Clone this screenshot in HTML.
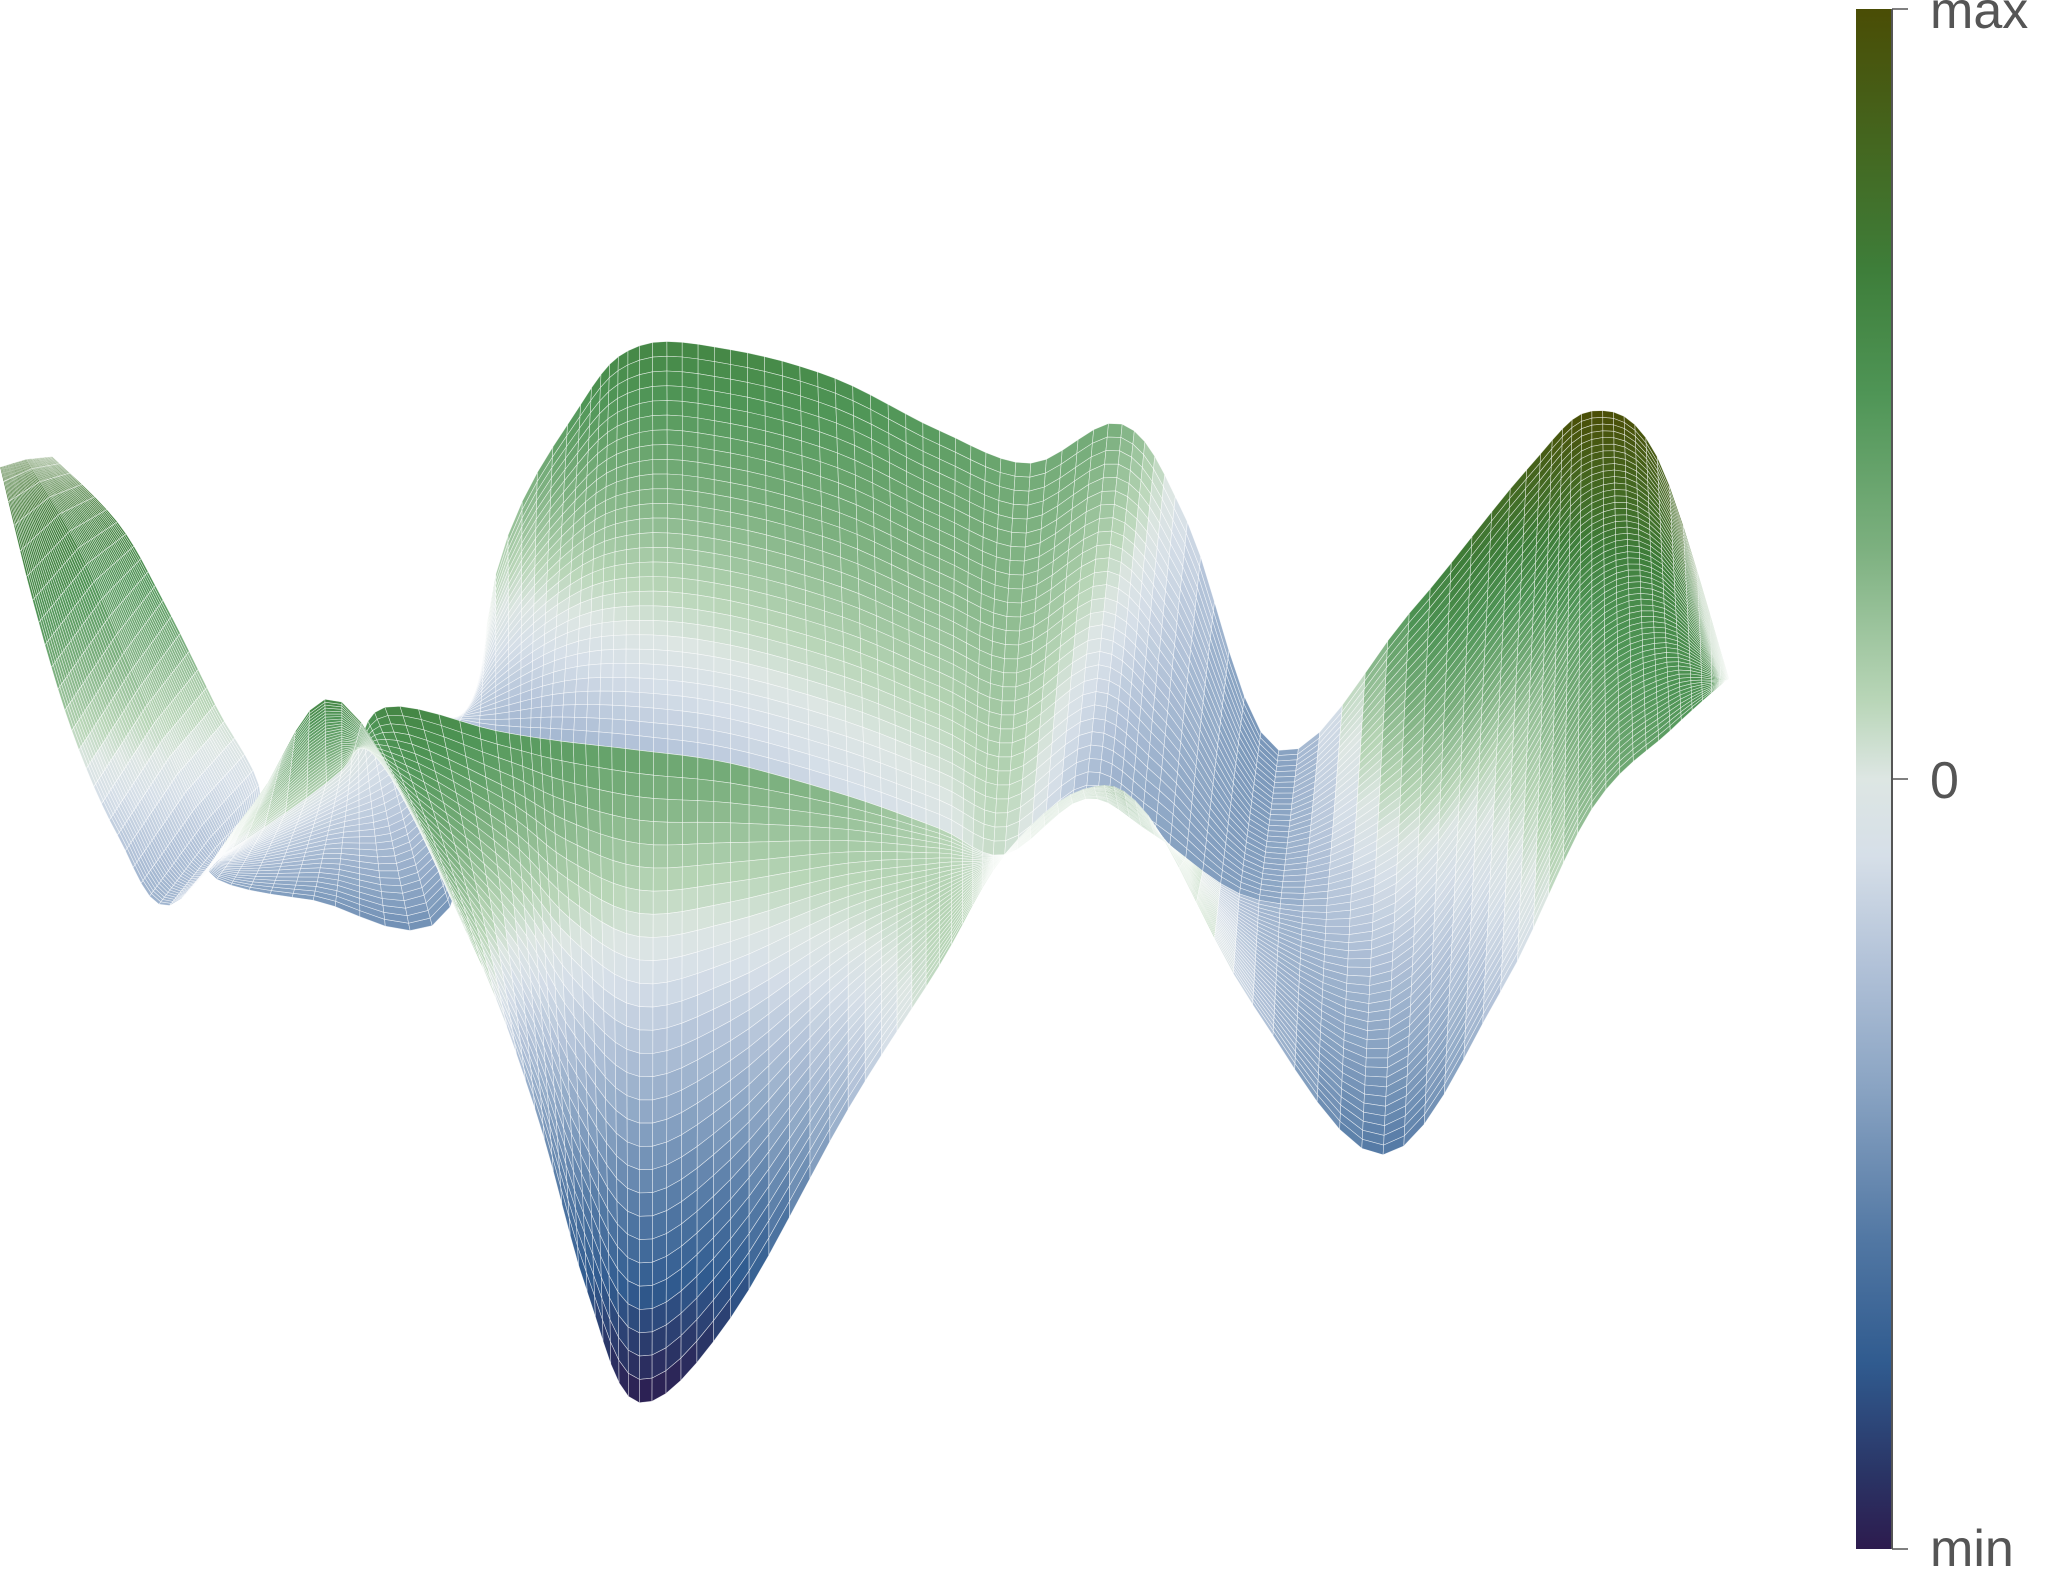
<!DOCTYPE html>
<html><head><meta charset="utf-8">
<style>
html,body{margin:0;padding:0;background:#fff;}
#wrap{position:relative;width:2046px;height:1570px;overflow:hidden;background:#fff;}
svg{position:absolute;left:0;top:0;}
text{font-family:"Liberation Sans",sans-serif;}
</style></head>
<body>
<div id="wrap">
<svg id="plot" width="2046" height="1570" viewBox="0 0 2046 1570">
  <defs>
    <linearGradient id="cbgrad" x1="0" y1="0" x2="0" y2="1">
      <stop offset="0" stop-color="#4a4d05"/>
      <stop offset="0.1" stop-color="#436a23"/>
      <stop offset="0.17" stop-color="#3e7e3a"/>
      <stop offset="0.25" stop-color="#4f9556"/>
      <stop offset="0.35" stop-color="#7cb07f"/>
      <stop offset="0.45" stop-color="#b9d6b8"/>
      <stop offset="0.5" stop-color="#dde6e3"/>
      <stop offset="0.55" stop-color="#d6dfe8"/>
      <stop offset="0.62" stop-color="#b2c2d8"/>
      <stop offset="0.7" stop-color="#8aa4c3"/>
      <stop offset="0.8" stop-color="#5177a3"/>
      <stop offset="0.88" stop-color="#305b8f"/>
      <stop offset="0.95" stop-color="#2a3566"/>
      <stop offset="1" stop-color="#2d1b4e"/>
    </linearGradient>
  </defs>
  <g id="surface"></g>
  <g>
    <rect x="1856" y="9" width="36" height="1540" fill="url(#cbgrad)"/>
    <line x1="1892" y1="9" x2="1892" y2="1549" stroke="#555" stroke-width="2"/>
    <line x1="1892" y1="9" x2="1908" y2="9" stroke="#555" stroke-width="1.5"/>
    <line x1="1892" y1="779" x2="1908" y2="779" stroke="#555" stroke-width="1.5"/>
    <line x1="1892" y1="1549" x2="1908" y2="1549" stroke="#555" stroke-width="1.5"/>
    <text x="1930" y="28" font-size="52" fill="#555">max</text>
    <text x="1930" y="798" font-size="52" fill="#555">0</text>
    <text x="1930" y="1566" font-size="52" fill="#555">min</text>
  </g>
</svg>
</div>
<script>
// Surface edge curves (reference-frame coordinates) and heights
const frontX = [0,25,55,90,130,195,262,360,410,450,490,560,650,720,770,830,880,960,1060,1150,1220,1280,1322];
const frontY = [358,460,560,640,694,615,538,720,850,990,1075,1010,850,740,655,605,625,770,885,760,620,560,522];
const frontZ = [0.75,0.55,0.1,-0.2,-0.3,0.3,0.6,0.15,-0.4,-0.8,-1,-0.85,-0.3,0.1,0.1,0.6,0.5,-0.2,-0.6,-0.2,0.25,0.45,0.55];
const ridgeX = [20,60,95,130,165,178,262,295,380,430,490,560,650,720,770,832,885,965,1070,1160,1220,1275,1324];
const ridgeY = [352,420,500,580,650,650,590,542,560,568,575,585,610,635,655,612,640,690,677,560,467,455,521];
const ridgeZFront = [0.75,0.6,0.3,0.0,-0.25,-0.05,0.2,0.6,0.5,0.45,0.4,0.35,0.25,0.12,0.05,0.5,0.4,-0.3,-0.1,0.15,0.5,0.6,0.55];
const ridgeZBack  = [0.75,0.6,0.3,0.0,-0.25,-0.05,0.0,0.0,-0.3,-0.3,-0.25,-0.2,-0.12,-0.05,0.05,-0.3,-0.4,-0.4,-0.1,0.15,0.5,0.6,0.55];
const backX = [40,90,125,165,200,160,240,345,380,445,490,560,640,720,790,860,910,980,1080,1170,1220,1270,1325];
const backY = [350,400,460,540,613,668,690,695,440,310,265,268,290,330,355,325,400,575,470,360,315,350,520];
const backZ = [0.75,0.65,0.45,0.1,-0.15,-0.35,-0.45,-0.45,0.1,0.5,0.6,0.6,0.55,0.45,0.35,0.3,-0.1,-0.45,0.5,0.85,1,0.9,0.55];

const K = 2046/1568;
const stops = [[0,'#4a4d05'],[0.1,'#436a23'],[0.17,'#3e7e3a'],[0.25,'#4f9556'],[0.35,'#7cb07f'],[0.45,'#b9d6b8'],[0.5,'#dde6e3'],[0.55,'#d6dfe8'],[0.62,'#b2c2d8'],[0.7,'#8aa4c3'],[0.8,'#5177a3'],[0.88,'#305b8f'],[0.95,'#2a3566'],[1,'#2d1b4e']];
function hex(h){return [parseInt(h.substr(1,2),16),parseInt(h.substr(3,2),16),parseInt(h.substr(5,2),16)];}
function cmap(z){
  let f = (1 - Math.max(-1,Math.min(1,z)))/2;
  for(let i=0;i<stops.length-1;i++){
    if(f<=stops[i+1][0]){
      const a=hex(stops[i][1]),b=hex(stops[i+1][1]);
      const t=(f-stops[i][0])/(stops[i+1][0]-stops[i][0]);
      return 'rgb('+[0,1,2].map(k=>Math.round(a[k]+(b[k]-a[k])*t)).join(',')+')';
    }
  }
  return stops[stops.length-1][1];
}
function cr(arr, sub){
  const out=[]; const n=arr.length;
  for(let i=0;i<n-1;i++){
    const p0=arr[Math.max(0,i-1)],p1=arr[i],p2=arr[i+1],p3=arr[Math.min(n-1,i+2)];
    for(let j=0;j<sub;j++){
      const t=j/sub,t2=t*t,t3=t2*t;
      out.push(0.5*((2*p1)+(-p0+p2)*t+(2*p0-5*p1+4*p2-p3)*t2+(-p0+3*p1-3*p2+p3)*t3));
    }
  }
  out.push(arr[n-1]);
  return out;
}
const SUB=6, NT=28;
const fx=cr(frontX,SUB), fy=cr(frontY,SUB), fz=cr(frontZ,SUB);
const mx=cr(ridgeX,SUB), my=cr(ridgeY,SUB), mzf=cr(ridgeZFront,SUB), mzb=cr(ridgeZBack,SUB);
const bx=cr(backX,SUB), by=cr(backY,SUB), bz=cr(backZ,SUB);
const g=document.getElementById('surface');
const NS=fx.length;
let html='';
function strip(ax,ay,az,cx,cy,cz){
  for(let k=NT;k>0;k--){
    const t0=k/NT,t1=(k-1)/NT;
    for(let i=0;i<NS-1;i++){
      const P=(ii,t)=>[ (ax[ii]+(cx[ii]-ax[ii])*t)*K, (ay[ii]+(cy[ii]-ay[ii])*t)*K, az[ii]+(cz[ii]-az[ii])*t ];
      const a=P(i,t0),b=P(i+1,t0),c=P(i+1,t1),d=P(i,t1);
      const z=(a[2]+b[2]+c[2]+d[2])/4;
      html+='<polygon points="'+a[0].toFixed(1)+','+a[1].toFixed(1)+' '+b[0].toFixed(1)+','+b[1].toFixed(1)+' '+c[0].toFixed(1)+','+c[1].toFixed(1)+' '+d[0].toFixed(1)+','+d[1].toFixed(1)+'" fill="'+cmap(z)+'"/>';
    }
  }
}
strip(mx,my,mzb,bx,by,bz);
strip(fx,fy,fz,mx,my,mzf);
g.innerHTML=html;
g.setAttribute('stroke','#ffffff');
g.setAttribute('stroke-width','0.6');
g.setAttribute('stroke-opacity','0.7');
</script>
</body></html>
